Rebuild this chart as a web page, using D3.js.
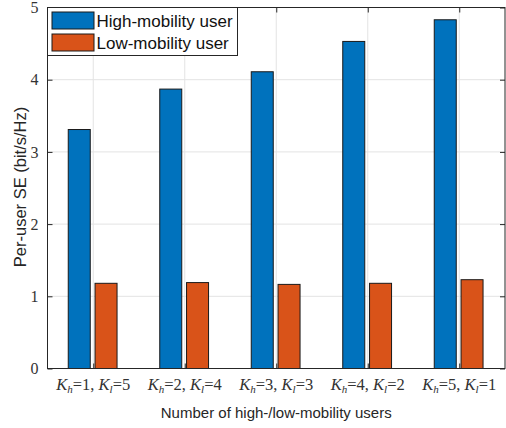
<!DOCTYPE html>
<html>
<head>
<meta charset="utf-8">
<script src="https://cdn.jsdelivr.net/npm/d3@7"></script>
<style>
  body { margin: 0; background: #fff; }
  svg { display: block; }
</style>
</head>
<body>
<svg id="chart" width="506" height="428"></svg>
<script>
// Data
const groups = [[1, 5], [2, 4], [3, 3], [4, 2], [5, 1]];
const seriesNames = ["High-mobility user", "Low-mobility user"];
const highSE = [3.31, 3.87, 4.11, 4.53, 4.83];
const lowSE = [1.18, 1.19, 1.165, 1.18, 1.23];
const yTicks = [0, 1, 2, 3, 4, 5];
const colors = ["#0072BD", "#D95319"];

const svg = d3.select("#chart");
const margin = { top: 7.5, right: 1, bottom: 59.5, left: 47.5 };
const width = 506 - margin.left - margin.right;
const height = 428 - margin.top - margin.bottom;

const g = svg.append("g")
    .attr("transform", "translate(" + margin.left + "," + margin.top + ")");

// Scales (matlab-style xlim [0.5, 5.5])
const x = d3.scaleLinear().domain([0.5, 5.5]).range([0, width]);
const y = d3.scaleLinear().domain([0, 5]).range([height, 0]);
const idx = d3.range(1, groups.length + 1);

// Grid
g.append("g")
    .selectAll("line.gy")
    .data(yTicks.slice(1, -1))
    .enter().append("line")
    .attr("x1", 0).attr("x2", width)
    .attr("y1", d => y(d)).attr("y2", d => y(d))
    .attr("stroke", "#e3e3e3").attr("stroke-width", 1);

g.append("g")
    .selectAll("line.gx")
    .data(idx)
    .enter().append("line")
    .attr("x1", d => x(d)).attr("x2", d => x(d))
    .attr("y1", 0).attr("y2", height)
    .attr("stroke", "#e3e3e3").attr("stroke-width", 1);

// Bars
const barW = 22;
const offsets = [-25, 1.8];
const series = [highSE, lowSE];
series.forEach((vals, s) => {
    g.selectAll(".bar" + s)
        .data(vals)
        .enter().append("rect")
        .attr("class", "bar" + s)
        .attr("x", (d, i) => x(i + 1) + offsets[s])
        .attr("y", d => y(d))
        .attr("width", barW)
        .attr("height", d => height - y(d))
        .attr("fill", colors[s])
        .attr("stroke", "#1a1a1a")
        .attr("stroke-width", 1);
});

// Axes
const axisColor = "#262626";
const yAxis = d3.axisLeft(y).tickValues(yTicks).tickSize(-5).tickPadding(9).tickFormat(d3.format("d"));
const yAxisR = d3.axisRight(y).tickValues(yTicks).tickSize(-5).tickFormat("");
const xAxis = d3.axisBottom(x).tickValues(idx).tickSize(-5).tickFormat("");
const xAxisT = d3.axisTop(x).tickValues(idx).tickSize(-5).tickFormat("");

function styleAxis(sel) {
    sel.select(".domain").remove();
    sel.selectAll(".tick line").attr("stroke", axisColor);
    sel.selectAll(".tick text")
        .attr("fill", "#333")
        .style("font-family", "'Liberation Serif', 'DejaVu Serif', serif")
        .style("font-size", "16px");
}

g.append("g").call(yAxis).call(styleAxis);
g.append("g").attr("transform", "translate(" + width + ",0)").call(yAxisR).call(styleAxis);
g.append("g").attr("transform", "translate(0," + height + ")").call(xAxis).call(styleAxis);
g.append("g").call(xAxisT).call(styleAxis);

// Frame
g.append("rect")
    .attr("x", 0).attr("y", 0)
    .attr("width", width).attr("height", height)
    .attr("fill", "none")
    .attr("stroke", axisColor)
    .attr("stroke-width", 1);

// X tick labels: K_h=a, K_l=b in math style
const serif = "'Liberation Serif', 'DejaVu Serif', serif";
groups.forEach((p, i) => {
    const t = g.append("text")
        .attr("x", x(i + 1))
        .attr("y", height + 21)
        .attr("text-anchor", "middle")
        .attr("fill", "#333")
        .style("font-family", serif)
        .style("font-size", "16.5px");
    t.append("tspan").attr("font-style", "italic").text("K");
    t.append("tspan").attr("font-style", "italic").attr("dy", 3).style("font-size", "11px").text("h");
    t.append("tspan").attr("dy", -3).text("=" + p[0] + ", ");
    t.append("tspan").attr("font-style", "italic").text("K");
    t.append("tspan").attr("font-style", "italic").attr("dy", 3).style("font-size", "11px").text("l");
    t.append("tspan").attr("dy", -3).text("=" + p[1]);
});

// Axis titles
const sans = "'Liberation Sans', Arial, sans-serif";
svg.append("text")
    .attr("x", margin.left + width / 2)
    .attr("y", 418)
    .attr("text-anchor", "middle")
    .attr("fill", "#262626")
    .style("font-family", sans)
    .style("font-size", "15px")
    .text("Number of high-/low-mobility users");

svg.append("text")
    .attr("transform", "translate(26,187) rotate(-90)")
    .attr("text-anchor", "middle")
    .attr("fill", "#262626")
    .style("font-family", sans)
    .style("font-size", "16.5px")
    .text("Per-user SE (bit/s/Hz)");

// Legend
const legend = g.append("g");
legend.append("rect")
    .attr("x", 0).attr("y", 0)
    .attr("width", 190).attr("height", 48)
    .attr("fill", "#fff")
    .attr("stroke", axisColor);
seriesNames.forEach((name, s) => {
    legend.append("rect")
        .attr("x", 4.5).attr("y", 4.5 + s * 22)
        .attr("width", 42).attr("height", 17)
        .attr("fill", colors[s])
        .attr("stroke", "#1a1a1a");
    legend.append("text")
        .attr("x", 49).attr("y", 19 + s * 22)
        .attr("fill", "#111")
        .style("font-family", sans)
        .style("font-size", "17px")
        .text(name);
});
</script>
</body>
</html>
